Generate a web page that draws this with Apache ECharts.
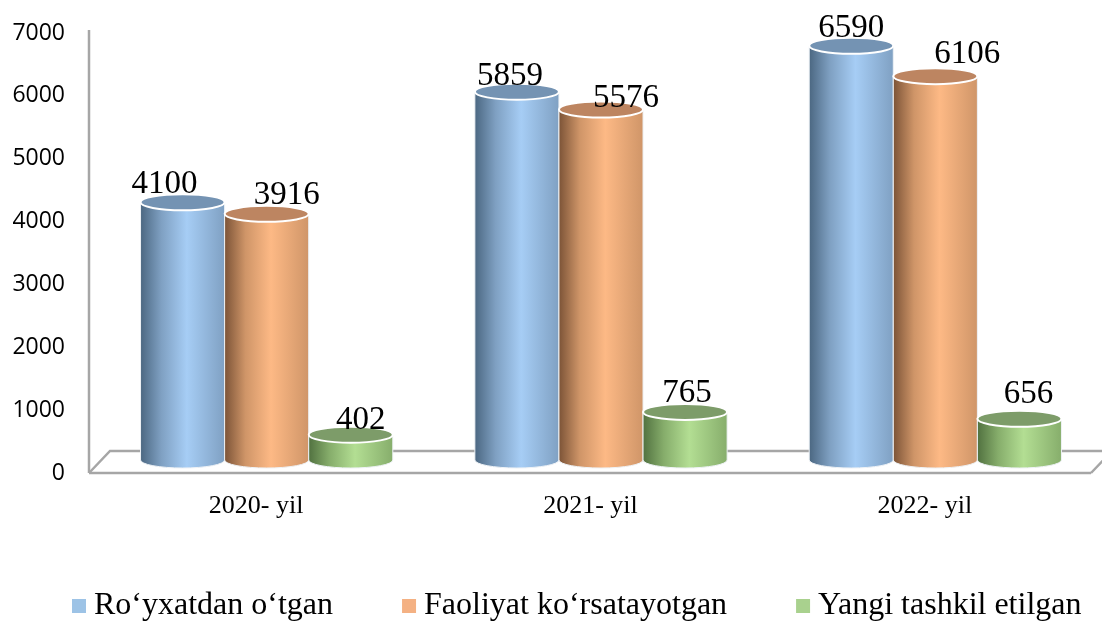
<!DOCTYPE html>
<html>
<head>
<meta charset="utf-8">
<style>html,body{margin:0;padding:0;background:#fff}#main{width:1102px;height:621px}</style>
<script src="https://cdn.jsdelivr.net/npm/echarts@6/dist/echarts.min.js"></script>
</head>
<body>
<div id="main"></div>
<script>
var categories = ['2020- yil', '2021- yil', '2022- yil'];
var registered = [4100, 5859, 6590];
var active = [3916, 5576, 6106];
var created = [402, 765, 656];
var names = ['Ro‘yxatdan o‘tgan', 'Faoliyat ko‘rsatayotgan', 'Yangi tashkil etilgan'];

// labels were dragged by hand in the original chart, so each one has its own nudge [dx, dy]
var labelNudge = [
    [[-18, 4], [-7, 7], [0, 5]],
    [[20, 3], [25, 11], [32, 0]],
    [[10, 8], [2, 3], [9, -2]]
];

var DEPTH = 13, RY = 8;
var main = echarts.init(document.getElementById('main'));

function shade(side, mid, edge) {
    return new echarts.graphic.LinearGradient(0, 0, 1, 0, [
        { offset: 0, color: side },
        { offset: 0.25, color: edge },
        { offset: 0.55, color: mid },
        { offset: 1, color: edge }
    ]);
}

function cylinder(idx, colors) {
    return function(params, api) {
        var band = api.size([1, 0])[0];
        var w = band * 0.2515;
        var base = api.coord([api.value(0), 0]);
        var top = api.coord([api.value(0), api.value(1)]);
        var cx = base[0] + 10.5 + (idx - 1) * w;
        var y0 = base[1] - DEPTH, y1 = top[1] - DEPTH;
        var rx = w / 2;
        var nudge = labelNudge[idx][params.dataIndex];
        return {
            type: 'group',
            children: [{
                type: 'path',
                shape: {
                    pathData: 'M' + (cx - rx) + ' ' + y1 + 'L' + (cx - rx) + ' ' + y0 +
                        'A' + rx + ' ' + RY + ' 0 0 0 ' + (cx + rx) + ' ' + y0 +
                        'L' + (cx + rx) + ' ' + y1 + 'Z'
                },
                style: { fill: shade(colors[0], colors[1], colors[2]), stroke: '#eef2f6', lineWidth: 1 }
            }, {
                type: 'ellipse',
                shape: { cx: cx, cy: y1, rx: rx, ry: RY },
                style: { fill: colors[3], stroke: '#fff', lineWidth: 2 }
            }, {
                type: 'text',
                style: {
                    text: String(api.value(1)),
                    x: cx + nudge[0],
                    y: y1 - 22 + nudge[1],
                    align: 'center',
                    verticalAlign: 'middle',
                    font: '33px "Liberation Serif"',
                    fill: '#000'
                }
            }]
        };
    };
}

// wall edge and floor of the 3D box, hung on the axis ends
function floor(params, api) {
    var a = api.coord([0, 0]);
    var t = api.coord([0, 7000]);
    var size = api.size([1, 0])[0];
    var x0 = a[0] - size / 2, y0 = a[1];
    var x1 = x0 + size * 3;
    var st = { stroke: '#a6a6a6', lineWidth: 2.5, fill: 'none' };
    return {
        type: 'group',
        children: [
            { type: 'line', shape: { x1: x0, y1: t[1] - 3, x2: x0, y2: y0 }, style: st },
            { type: 'polyline', shape: { points: [[x0, y0], [x0 + 21, y0 - 22], [x1 + 20, y0 - 22], [x1 - 1, y0]] }, style: st },
            { type: 'line', shape: { x1: x0, y1: y0, x2: x1 - 1, y2: y0 }, style: st }
        ]
    };
}

function cylSeries(name, values, idx, colors) {
    return {
        type: 'custom',
        name: name,
        clip: false,
        z: 3,
        itemStyle: { color: colors[4] },
        renderItem: cylinder(idx, colors),
        encode: { x: 0, y: 1 },
        data: values.map(function(v, i) { return [i, v]; })
    };
}

main.setOption({
    animation: false,
    backgroundColor: '#fff',
    grid: { left: 89, right: 10, top: 33, bottom: 148 },
    legend: {
        data: names,
        left: 67,
        top: 585,
        icon: 'rect',
        itemWidth: 14,
        itemHeight: 14,
        itemGap: 69,
        textStyle: { fontFamily: 'Liberation Serif', fontSize: 32, color: '#000', padding: [0, 0, 0, 3] }
    },
    xAxis: {
        type: 'category',
        data: categories,
        axisLine: { show: false },
        axisTick: { show: false },
        axisLabel: { fontFamily: 'Liberation Serif', fontSize: 26, color: '#000', margin: 20 }
    },
    yAxis: {
        type: 'value',
        min: 0,
        max: 7000,
        interval: 1000,
        splitLine: { show: false },
        axisTick: { show: false },
        axisLine: { show: false },
        axisLabel: {
            fontFamily: 'Open Sans',
            fontSize: 23,
            color: '#000',
            margin: 24,
            padding: [2, 0, 0, 0],
            formatter: function(v) { return String(v); }
        }
    },
    series: [
        { type: 'custom', silent: true, clip: false, z: 1, renderItem: floor, encode: { x: 0, y: 1 }, data: [[0, 0]] },
        cylSeries(names[0], registered, 0, ['#4a6680', '#a6cdf5', '#7fa0c2', '#7493b3', '#9dc3e6']),
        cylSeries(names[1], active, 1, ['#7a5236', '#fdb985', '#cf9568', '#bd8561', '#f4b183']),
        cylSeries(names[2], created, 2, ['#50703f', '#b3de93', '#86ad6b', '#7d9c69', '#a9d18e'])
    ]
});
</script>
</body>
</html>
